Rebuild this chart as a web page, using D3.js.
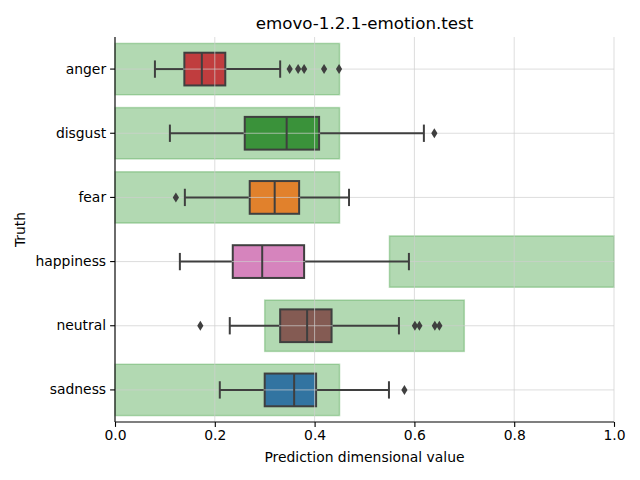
<!DOCTYPE html>
<html><head><meta charset="utf-8">
<script src="https://cdn.jsdelivr.net/npm/d3@7"></script>
<style>body{margin:0;background:#fff}text{font-family:"DejaVu Sans",sans-serif}</style>
</head><body><svg id="c" width="640" height="480"></svg>
<script>
const categories = ["anger","disgust","fear","happiness","neutral","sadness"];
const whiskerLow = [0.080,0.110,0.140,0.130,0.230,0.210];
const q1 = [0.139,0.260,0.270,0.236,0.331,0.300];
const median = [0.174,0.344,0.320,0.295,0.385,0.359];
const q3 = [0.221,0.409,0.369,0.379,0.434,0.403];
const whiskerHigh = [0.331,0.619,0.469,0.589,0.569,0.549];
const outliers = [[0.350,0.367,0.379,0.419,0.449],[0.640],[0.122],[],[0.171,0.601,0.610,0.641,0.650],[0.580]];
const bandStart = [0,0,0,0.55,0.30,0];
const bandEnd = [0.45,0.45,0.45,1.0,0.70,0.45];
const palette = ["#c03d3e","#3a923a","#e1812c","#d684bd","#845b53","#3274a1"];
const xTicks = [0,0.2,0.4,0.6,0.8,1.0];

const svg = d3.select("#c");
const L=115, R=614, T=37, B=422;
const x = d3.scaleLinear().domain([0,1]).range([L,R]);
const y = d3.scaleBand().domain(categories).range([T,B]);
const step = y.step();
const cy = c => y(c)+step/2;
const edge = "#3f3f3f";

// bands
svg.append("g").selectAll("rect").data(categories).join("rect")
  .attr("x",(c,i)=>x(bandStart[i])).attr("width",(c,i)=>x(bandEnd[i])-x(bandStart[i]))
  .attr("y",c=>cy(c)-step*0.4).attr("height",step*0.8)
  .attr("fill","green").attr("fill-opacity",0.3)
  .attr("stroke","green").attr("stroke-opacity",0.25).attr("stroke-width",1.5);

const bh = step*0.51, ch = step*0.27;
const boxes = svg.append("g");
categories.forEach((c,i)=>{
  const yc = cy(c);
  boxes.append("rect").attr("x",x(q1[i])).attr("width",x(q3[i])-x(q1[i])).attr("y",yc-bh/2).attr("height",bh)
    .attr("fill",palette[i]).attr("stroke",edge).attr("stroke-width",2);
});

// grid above patches, below lines
const grid = svg.append("g").attr("stroke","#cfcfcf").attr("stroke-opacity",0.7).attr("stroke-width",1);
xTicks.forEach(t=>grid.append("line").attr("x1",x(t)).attr("x2",x(t)).attr("y1",T).attr("y2",B));
categories.forEach(c=>grid.append("line").attr("x1",L).attr("x2",R).attr("y1",cy(c)).attr("y2",cy(c)));

const g = svg.append("g");
categories.forEach((c,i)=>{
  const yc = cy(c);
  g.append("line").attr("x1",x(whiskerLow[i])).attr("x2",x(q1[i])-1).attr("y1",yc).attr("y2",yc).attr("stroke",edge).attr("stroke-width",2);
  g.append("line").attr("x1",x(q3[i])+1).attr("x2",x(whiskerHigh[i])).attr("y1",yc).attr("y2",yc).attr("stroke",edge).attr("stroke-width",2);
  [whiskerLow[i],whiskerHigh[i]].forEach(v=>g.append("line").attr("x1",x(v)).attr("x2",x(v)).attr("y1",yc-ch/2).attr("y2",yc+ch/2).attr("stroke",edge).attr("stroke-width",2));
  g.append("line").attr("x1",x(median[i])).attr("x2",x(median[i])).attr("y1",yc-bh/2).attr("y2",yc+bh/2).attr("stroke",edge).attr("stroke-width",2);
  outliers[i].forEach(v=>{
    const px=x(v);
    g.append("path").attr("d",`M${px},${yc-5}L${px+3.1},${yc}L${px},${yc+5}L${px-3.1},${yc}Z`).attr("fill",edge);
  });
});

// axes
const xa = svg.append("g").attr("transform",`translate(0,${B})`)
  .call(d3.axisBottom(x).tickValues(xTicks).tickFormat(d3.format(".1f")).tickSize(4.9).tickPadding(3.5));
const ya = svg.append("g").attr("transform",`translate(${L},0)`)
  .call(d3.axisLeft(y).tickSize(4.9).tickPadding(4));
[xa,ya].forEach(a=>{
  a.select(".domain").attr("stroke","#000").attr("stroke-width",1.1);
  a.selectAll(".tick line").attr("stroke","#000").attr("stroke-width",1.1);
  a.selectAll("text").attr("fill","#000").style("font-size","13.9px").style("font-family","DejaVu Sans");
});
ya.select(".domain").attr("d",`M0,${T}V${B}`);
xa.select(".domain").attr("d",`M${L},0H${R}`);

svg.append("text").attr("x",(L+R)/2).attr("y",29).attr("text-anchor","middle").style("font-size","16.7px").text("emovo-1.2.1-emotion.test");
svg.append("text").attr("x",(L+R)/2).attr("y",462).attr("text-anchor","middle").style("font-size","13.9px").text("Prediction dimensional value");
svg.append("text").attr("transform",`translate(25,${(T+B)/2}) rotate(-90)`).attr("text-anchor","middle").style("font-size","13.9px").text("Truth");
</script></body></html>
